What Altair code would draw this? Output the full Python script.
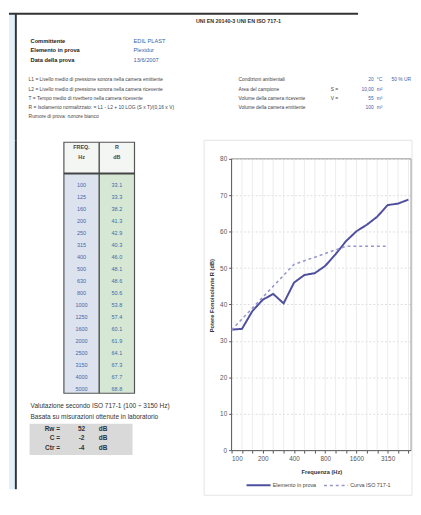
import altair as alt
import pandas as pd

# ---------------- data ----------------
freq_labels = ["100", "125", "160", "200", "250", "315", "400", "500", "630",
               "800", "1000", "1250", "1600", "2000", "2500", "3150", "4000", "5000"]
r_values = [33.1, 33.3, 38.2, 41.3, 42.9, 40.3, 46.0, 48.1, 48.6,
            50.6, 53.8, 57.4, 60.1, 61.9, 64.1, 67.3, 67.7, 68.8]
ref_values = [33, 36, 39, 42, 45, 48, 51, 52, 53, 54, 55, 56, 56, 56, 56, 56]
series_names = ["Elemento in prova", "Curva ISO 717-1"]
y_ticks = [0, 10, 20, 30, 40, 50, 60, 70, 80]
x_title = "Frequenza (Hz)"
y_title = "Potere Fonoisolante R (dB)"

header_title = "UNI EN 20140-3   UNI EN ISO 717-1"
info_labels = ["Committente", "Elemento in prova", "Data della prova"]
info_values = ["EDIL PLAST", "Plexidur", "13/6/2007"]
formula_lines = [
    "L1 = Livello medio di pressione sonora nella camera emittente",
    "L2 = Livello medio di pressione sonora nella camera ricevente",
    "T = Tempo medio di riverbero nella camera ricevente",
    "R = Isolamento normalizzato: = L1 - L2 + 10 LOG (S x T)/(0,16 x V)",
    "Rumore di prova: rumore bianco",
]
cond_labels = ["Condizioni ambientali", "Area del campione",
               "Volume della camera ricevente", "Volume della camera emittente"]
cond_symbols = [" ", "S =", "V =", " "]
cond_values = ["20", "10,00", "55", "100"]
cond_units = ["°C", "m²", "m³", "m³"]
cond_humidity = "50 % UR"
table_head_freq = ["FREQ.", "Hz"]
table_head_r = ["R", "dB"]
eval_lines = ["Valutazione secondo ISO 717-1 (100 ÷ 3150 Hz)",
              "Basata su misurazioni ottenute in laboratorio"]
result_labels = ["Rw =", "C =", "Ctr ="]
result_values = ["52", "-2", "-4"]
result_units = ["dB", "dB", "dB"]

# ---------------- helpers ----------------
one = pd.DataFrame({"k": [0]})
FONT = "Liberation Sans"
BLUE_TXT = "#3a5fa8"
STRIP = "#e2f0fb"


def rect(x, x2, y, y2, **kw):
    return alt.Chart(one).mark_rect(**kw).encode(
        x=alt.value(x), x2=alt.value(x2), y=alt.value(y), y2=alt.value(y2))


def rule(x, x2, y, y2, **kw):
    return alt.Chart(one).mark_rule(**kw).encode(
        x=alt.value(x), x2=alt.value(x2), y=alt.value(y), y2=alt.value(y2))


def block(lines, x, y, align="left", size=5.2, weight="normal", color="#444", lh=9.2):
    return alt.Chart(one).mark_text(
        align=align, baseline="top", fontSize=size, fontWeight=weight,
        color=color, lineBreak="\n", lineHeight=lh, font=FONT
    ).encode(x=alt.value(x), y=alt.value(y), text=alt.value("\n".join(lines)))


# ---------------- header panel ----------------
HW, HH = 408, 130
header = alt.layer(
    rect(0, 6, 1, HH, color=STRIP),
    rule(7, 7, 1, HH, color="#333", strokeWidth=2),
    rule(0, 356, 1, 1, color="#333", strokeWidth=2),
    block([header_title], 234, 6, align="center", size=5.5, weight="bold", color="#333"),
    block(info_labels, 22, 26, size=5.8, weight="bold", color="#222", lh=9.5),
    block(info_values, 127, 26, size=5.8, color=BLUE_TXT, lh=9.5),
    block(formula_lines, 20, 66, size=5.0, color="#444", lh=9.3),
    block(cond_labels, 234, 66, size=5.0, color="#444", lh=9.3),
    block(cond_symbols, 328, 66, size=5.0, color="#444", lh=9.3),
    block(cond_values, 372, 66, align="right", size=5.0, color=BLUE_TXT, lh=9.3),
    block(cond_units, 375, 66, size=5.0, color=BLUE_TXT, lh=9.3),
    block([cond_humidity], 390, 66, size=5.0, color=BLUE_TXT, lh=9.3),
).properties(width=HW, height=HH)

# ---------------- left panel (table + evaluation) ----------------
LW, LH = 227, 356
table_df = pd.DataFrame({"freq": freq_labels, "R": r_values})
row_y = alt.Y("freq:O", sort=freq_labels, axis=None,
              scale=alt.Scale(type="point", range=[46, 254], padding=0))

table_freq = alt.Chart(table_df).mark_text(
    align="center", baseline="middle", fontSize=5.6, color="#4466aa", font=FONT
).encode(x=alt.value(74), y=row_y, text="freq:N")
table_r = alt.Chart(table_df).mark_text(
    align="center", baseline="middle", fontSize=5.6, color="#4466aa", font=FONT
).encode(x=alt.value(110), y=row_y, text=alt.Text("R:Q", format=".1f"))

left = alt.layer(
    rect(0, 6, 0, LH, color=STRIP),
    rule(7, 7, 0, LH, color="#333", strokeWidth=2),
    rect(56, 92, 2, 258, color="#dde3ee"),
    rect(92, 128, 2, 258, color="#d6e8d4"),
    rect(56, 128, 2, 34, color="#f4f6f4"),
    rect(56, 128, 2, 258, fillOpacity=0, stroke="#555", strokeWidth=1.2),
    rule(92, 92, 2, 258, color="#555", strokeWidth=1.5),
    rule(56, 128, 34, 34, color="#444", strokeWidth=2),
    block(table_head_freq, 74, 5, align="center", size=5.5, weight="bold", color="#444", lh=10.5),
    block(table_head_r, 110, 5, align="center", size=5.5, weight="bold", color="#444", lh=10.5),
    table_freq,
    table_r,
    block(eval_lines, 22, 268, size=6.6, color="#333", lh=11),
    rect(21, 126, 289, 321, color="#d9d9d9"),
    block(result_labels, 52, 291, align="right", size=6.6, weight="bold", color="#333", lh=10),
    block(result_values, 74, 291, align="center", size=6.6, weight="bold", color="#333", lh=10),
    block(result_units, 96, 291, align="center", size=6.6, weight="bold", color="#333", lh=10),
).properties(width=LW, height=LH)

# ---------------- right panel: the chart ----------------
line_rows = [{"idx": i, "value": v, "series": series_names[0]} for i, v in enumerate(r_values)]
line_rows += [{"idx": i, "value": v, "series": series_names[1]} for i, v in enumerate(ref_values)]
line_df = pd.DataFrame(line_rows)
grid_df = pd.DataFrame({"idx": list(range(len(freq_labels)))})

X_MAX = 17.25
Y_TOP = 80
Y_MAX = 85.1

shown = [f if (i % 3 == 0 and i <= 15) else "" for i, f in enumerate(freq_labels)]
label_expr = "[" + ",".join("'" + s + "'" for s in shown) + "][datum.value]"

xscale = alt.Scale(domain=[0, X_MAX], nice=False, zero=False)
yscale = alt.Scale(domain=[0, Y_MAX], nice=False)

xaxis = alt.Axis(values=list(range(18)), labelExpr=label_expr, title=x_title,
                 labelOverlap=False, labelFontSize=6.5, labelColor="#555",
                 tickSize=3, tickColor="#555", domainColor="#555",
                 labelPadding=3, titleFontSize=5.8, titleFontWeight="bold",
                 titleColor="#333", titlePadding=6, grid=False,
                 labelFont=FONT, titleFont=FONT)
yaxis = alt.Axis(values=y_ticks, title=y_title, labelOverlap=False,
                 labelFontSize=6.5, labelColor="#555", tickSize=3,
                 tickColor="#555", domain=False, labelPadding=2,
                 titleFontSize=5.8, titleFontWeight="bold", titleColor="#333",
                 titlePadding=5, grid=True, gridColor="#dddddd",
                 gridDash=[2, 2], labelFont=FONT, titleFont=FONT)

leg = dict(title=None, orient="none", legendX=14, legendY=338, direction="horizontal",
           symbolType="stroke", symbolSize=600, symbolStrokeWidth=2,
           labelFontSize=5.5, labelFont=FONT, labelColor="#444",
           columnPadding=4, labelOffset=1)


def xd(v):
    return alt.XDatum(v, scale=xscale, axis=xaxis)


def yd(v):
    return alt.YDatum(v, scale=yscale, axis=yaxis)


chart_box = rect(-28, 184, 0, 362, fillOpacity=0, stroke="#e3e3e3", strokeWidth=1)
vgrid = alt.Chart(grid_df).mark_rule(color="#ececec", strokeWidth=1).encode(
    x=alt.X("idx:Q", scale=xscale, axis=xaxis), y=yd(0), y2=alt.datum(Y_TOP))
frame_top = alt.Chart(one).mark_rule(color="#9a9a9a", strokeWidth=1).encode(
    x=xd(0), x2=alt.datum(X_MAX), y=yd(Y_TOP))
frame_right = alt.Chart(one).mark_rule(color="#9a9a9a", strokeWidth=1).encode(
    x=xd(X_MAX), y=yd(0), y2=alt.datum(Y_TOP))
frame_left = alt.Chart(one).mark_rule(color="#555", strokeWidth=1).encode(
    x=xd(0), y=yd(0), y2=alt.datum(Y_TOP))

lines = alt.Chart(line_df).mark_line().encode(
    x=alt.X("idx:Q", scale=xscale, axis=xaxis),
    y=alt.Y("value:Q", scale=yscale, axis=yaxis),
    color=alt.Color("series:N", scale=alt.Scale(domain=series_names, range=["#4f4f9f", "#9696cc"]),
                    legend=alt.Legend(**leg)),
    strokeDash=alt.StrokeDash("series:N", scale=alt.Scale(domain=series_names, range=[[1, 0], [3, 3]]),
                              legend=alt.Legend(**leg)),
    strokeWidth=alt.StrokeWidth("series:N", scale=alt.Scale(domain=series_names, range=[2, 1.6]),
                                legend=None),
)

chart = alt.layer(chart_box, vgrid, frame_top, frame_right, frame_left, lines).properties(
    width=183, height=316)

row = alt.hconcat(left, chart, spacing=0, bounds="flush").resolve_scale(
    color="independent", strokeDash="independent", strokeWidth="independent")

final = alt.vconcat(header, row, spacing=0, bounds="flush").resolve_scale(
    color="independent", strokeDash="independent", strokeWidth="independent"
).properties(padding=0).configure(font=FONT).configure_view(stroke=None).configure_axis(
    labelOverlap=False)

final.save("out.html", embed_options={"renderer": "svg", "actions": False})
